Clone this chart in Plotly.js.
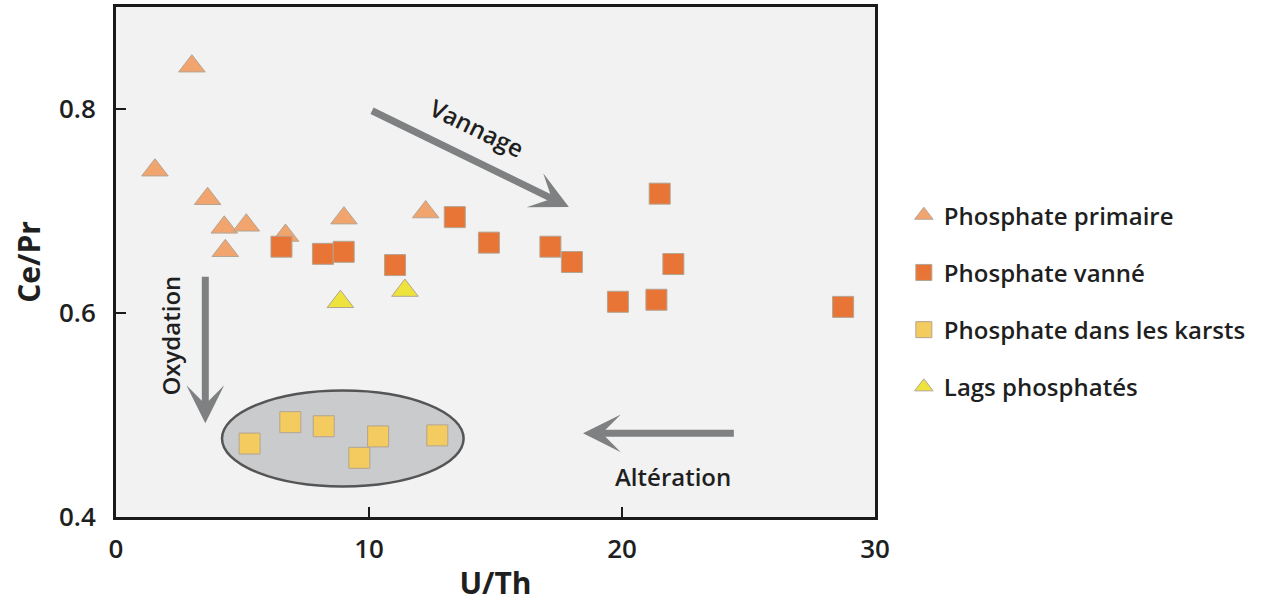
<!DOCTYPE html>
<html>
<head>
<meta charset="utf-8">
<script src="https://cdn.plot.ly/plotly-3.0.1.min.js"></script>
<style>html,body{margin:0;padding:0;background:#fff;}#chart{width:1272px;height:603px;}</style>
</head>
<body>
<div id="chart"></div>
<script>
// Phosphate primaire (triangles)
const primaireX = [3.0, 1.54, 3.62, 4.28, 5.15, 4.32, 6.70, 9.01, 12.24];
const primaireY = [0.842, 0.740, 0.712, 0.684, 0.686, 0.661, 0.676, 0.693, 0.699];
// Phosphate vanné (squares)
const vanneX = [6.54, 8.18, 9.00, 11.03, 13.39, 14.74, 17.17, 18.02, 21.49, 22.03, 19.84, 21.36, 28.74];
const vanneY = [0.665, 0.658, 0.660, 0.647, 0.694, 0.669, 0.665, 0.650, 0.717, 0.648, 0.611, 0.613, 0.606];
// Phosphate dans les karsts (squares)
const karstX = [5.28, 6.89, 8.21, 9.62, 10.36, 12.70];
const karstY = [0.472, 0.493, 0.489, 0.458, 0.479, 0.480];
// Lags phosphatés (triangles)
const lagsX = [8.87, 11.42];
const lagsY = [0.611, 0.622];

const seriesNames = ['Phosphate primaire', 'Phosphate vanné', 'Phosphate dans les karsts', 'Lags phosphatés'];
const xTicks = [0, 10, 20, 30];
const yTicks = [0.4, 0.6, 0.8];

const FONT = '"Open Sans", "DejaVu Sans", sans-serif';
const outline = {color: '#B3A594', width: 1};

const traces = [
  {x: primaireX, y: primaireY, name: seriesNames[0], legendgroup: 'g1', mode: 'markers', type: 'scatter',
   marker: {symbol: 'triangle-up', size: 23, color: '#F2A46E', line: outline}},
  {x: vanneX, y: vanneY, name: seriesNames[1], legendgroup: 'g2', mode: 'markers', type: 'scatter',
   marker: {symbol: 'square', size: 21, color: '#E87535', line: outline}},
  {x: karstX, y: karstY, name: seriesNames[2], legendgroup: 'g3', mode: 'markers', type: 'scatter',
   marker: {symbol: 'square', size: 21, color: '#F3CB5E', line: outline}},
  {x: lagsX, y: lagsY, name: seriesNames[3], legendgroup: 'g4', mode: 'markers', type: 'scatter',
   marker: {symbol: 'triangle-up', size: 23, color: '#EEE33C', line: outline}}
];

const arrowColor = '#7F8081';
const txtFont = {family: FONT, size: 24, color: '#1f1f1f', weight: 600};

const layout = {
  width: 1272, height: 603,
  margin: {l: 116, r: 397, t: 7, b: 86},
  paper_bgcolor: '#ffffff',
  plot_bgcolor: '#F2F2F2',
  showlegend: true,
  legend: {
    x: 1.038, xanchor: 'left', y: 0.635, yanchor: 'top',
    traceorder: 'grouped', tracegroupgap: 23,
    font: {family: FONT, size: 24, color: '#1f1f1f', weight: 600},
    bgcolor: 'rgba(0,0,0,0)', itemsizing: 'trace'
  },
  xaxis: {
    range: [0, 30], tickvals: xTicks, ticktext: xTicks.map(String),
    ticks: 'inside', ticklen: 10, tickwidth: 2.5, tickcolor: '#1a1a1a',
    showline: true, linecolor: '#1a1a1a', linewidth: 3, mirror: true,
    showgrid: false, zeroline: false,
    tickfont: {family: FONT, size: 26, color: '#1f1f1f', weight: 600},
    ticklabelstandoff: 7,
    title: {text: 'U/Th', font: {family: FONT, size: 30, color: '#1f1f1f', weight: 700}, standoff: 9}
  },
  yaxis: {
    range: [0.4, 0.9], tickvals: yTicks, ticktext: yTicks.map(v => v.toFixed(1)),
    ticks: 'inside', ticklen: 10, tickwidth: 2.5, tickcolor: '#1a1a1a',
    showline: true, linecolor: '#1a1a1a', linewidth: 3, mirror: true,
    showgrid: false, zeroline: false,
    tickfont: {family: FONT, size: 26, color: '#1f1f1f', weight: 600},
    ticklabelstandoff: 12,
    title: {text: 'Ce/Pr', font: {family: FONT, size: 30, color: '#1f1f1f', weight: 700}, standoff: 10}
  },
  shapes: [
    {type: 'circle', xref: 'x', yref: 'y', x0: 4.19, x1: 13.74, y0: 0.430, y1: 0.524,
     fillcolor: '#C9CBCD', line: {color: '#555555', width: 2.5}, layer: 'below'}
  ],
  annotations: [
    {x: 17.9, y: 0.704, ax: 10.06, ay: 0.799, xref: 'x', yref: 'y', axref: 'x', ayref: 'y',
     showarrow: true, arrowhead: 3, arrowwidth: 7, arrowsize: 0.9, arrowcolor: arrowColor, text: ''},
    {x: 3.53, y: 0.492, ax: 3.53, ay: 0.637, xref: 'x', yref: 'y', axref: 'x', ayref: 'y',
     showarrow: true, arrowhead: 3, arrowwidth: 7, arrowsize: 0.9, arrowcolor: arrowColor, text: ''},
    {x: 18.46, y: 0.482, ax: 24.48, ay: 0.482, xref: 'x', yref: 'y', axref: 'x', ayref: 'y',
     showarrow: true, arrowhead: 3, arrowwidth: 7, arrowsize: 0.9, arrowcolor: arrowColor, text: ''},
    {x: 14.26, y: 0.782, xref: 'x', yref: 'y', text: 'Vannage', showarrow: false, textangle: 26, font: txtFont},
    {x: 2.14, y: 0.578, xref: 'x', yref: 'y', text: 'Oxydation', showarrow: false, textangle: -90, font: txtFont},
    {x: 22.0, y: 0.4395, xref: 'x', yref: 'y', text: 'Altération', showarrow: false, font: txtFont}
  ]
};

Plotly.newPlot('chart', traces, layout, {displayModeBar: false, staticPlot: true});
</script>
</body>
</html>
